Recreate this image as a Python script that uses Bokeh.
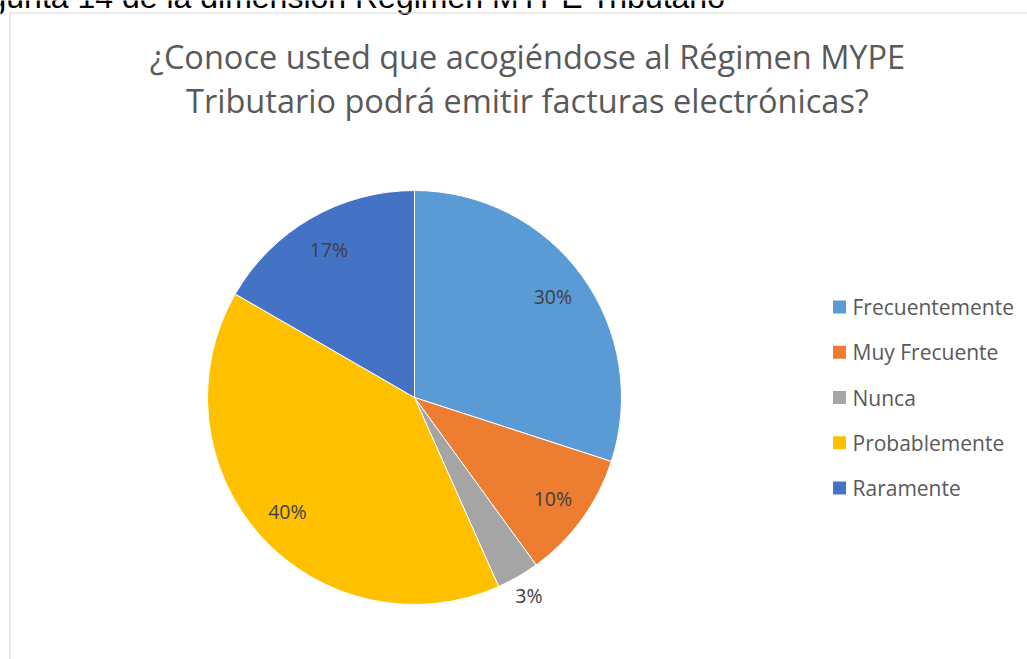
import math
from bokeh.plotting import figure
from bokeh.models import Range1d, ColumnDataSource
from bokeh.core.properties import value
from bokeh.embed import file_html
from bokeh.resources import INLINE

# ---- data ----
categories = ["Frecuentemente", "Muy Frecuente", "Nunca", "Probablemente", "Raramente"]
counts = [9, 3, 1, 12, 5]
colors = ["#5B9BD5", "#ED7D31", "#A5A5A5", "#FFC000", "#4472C4"]
title_lines = ["¿Conoce usted que acogiéndose al Régimen MYPE",
               "Tributario podrá emitir facturas electrónicas?"]
caption = "Pregunta 14 de la dimensión Régimen MYPE Tributario"

# ---- layout ----
W, H = 1027, 659
def Y(py):
    return H - py

p = figure(width=W, height=H, x_range=Range1d(0, W), y_range=Range1d(0, H),
           output_backend="svg", toolbar_location=None, min_border=0)
p.axis.visible = False
p.grid.visible = False
p.outline_line_color = None
p.background_fill_color = "white"

# caption (cut off at top of page, as in the source)
p.text(x=[725], y=[Y(-3.6)], text=[caption], text_align="right", text_baseline="middle",
       text_font=value("Liberation Sans"), text_font_size="32px", text_color="#000000")

# chart border
p.quad(left=[9.5], right=[1200], top=[Y(12.5)], bottom=[-100], fill_color=None,
       line_color="#D9D9D9", line_width=1)

# title
for i, line in enumerate(title_lines):
    p.text(x=[527], y=[Y(56 + 44 * i)], text=[line], text_align="center", text_baseline="middle",
           text_font=value("Open Sans"), text_font_size="32.5px", text_color="#595959")

# pie
cx, cy, R = 414, Y(397), 207
total = sum(counts)
fr = [c / total for c in counts]
cum = [0.0]
for f in fr:
    cum.append(cum[-1] + f)
start = [math.pi / 2 - 2 * math.pi * cum[i] for i in range(len(fr))]
end = [math.pi / 2 - 2 * math.pi * cum[i + 1] for i in range(len(fr))]
src = ColumnDataSource(dict(start=start, end=end, color=colors, cat=categories))
p.wedge(x=cx, y=cy, radius=R, start_angle="start", end_angle="end", direction="clock",
        fill_color="color", line_color="white", line_width=1, source=src)

# data labels
lx, ly, lt = [], [], []
for i, f in enumerate(fr):
    th = 2 * math.pi * (cum[i] + f / 2)
    r = 171 if f > 0.05 else 229
    lx.append(cx + r * math.sin(th))
    ly.append(cy + r * math.cos(th))
    lt.append(f"{round(100 * f)}%")
p.text(x=lx, y=ly, text=lt, text_align="center", text_baseline="middle",
       text_font=value("Open Sans"), text_font_size="19.5px", text_color="#404040")

# legend
leg_y = [Y(306.5 + 45.25 * i) for i in range(len(categories))]
p.rect(x=[839] * len(categories), y=leg_y, width=13, height=13, fill_color=colors, line_color=None)
p.text(x=[852] * len(categories), y=leg_y, text=categories, text_align="left", text_baseline="middle",
       text_font=value("Open Sans"), text_font_size="21px", text_color="#595959")

open("out.html", "w").write(file_html(p, INLINE))
